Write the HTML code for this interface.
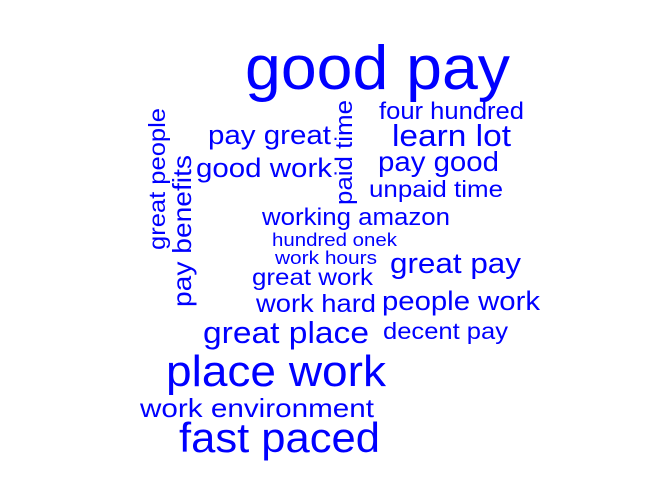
<!DOCTYPE html>
<html><head><meta charset="utf-8"><style>
html,body{margin:0;padding:0;background:#fff;}
svg{display:block;}
text{font-family:"Liberation Sans",Arial,sans-serif;fill:#0000ff;}
</style></head><body>
<svg id="cloud" width="672" height="480" viewBox="0 0 672 480" xmlns="http://www.w3.org/2000/svg"></svg>
<script>
const words = ["good pay","four hundred","learn lot","pay great","good work","pay good","unpaid time","working amazon","hundred onek","work hours","great pay","great work","work hard","people work","great place","decent pay","place work","work environment","fast paced","paid time","great people","pay benefits"];
const sizes = [62,24,31,27,27,28,23,24,18,18,29,23,25,27,31,23,44,26,42,24,23,26];
const rotated = [0,0,0,0,0,0,0,0,0,0,0,0,0,0,0,0,0,0,0,1,1,1];
const layoutX = [245,379,392,208,196,378,369,262,272,275,390,252,256,382,203,383,166,140,179,352,165,191];
const layoutY = [89,119,146,144,177,171,197,225,246,264,273,285,312,310,343,339,386,417,452,205,250,307];
const lens = [265,145,119,123,136,121,134,188,125,102,131,121,120,158,166,125,220,234,201,105,142,152];
const svg = document.getElementById('cloud');
const NS = 'http://www.w3.org/2000/svg';
words.forEach((w,i)=>{
  const t = document.createElementNS(NS,'text');
  
  
  t.setAttribute('font-size', sizes[i]);
  t.setAttribute('textLength', lens[i]);
  t.setAttribute('lengthAdjust', 'spacingAndGlyphs');
  if (rotated[i]) {
    t.setAttribute('x', 0); t.setAttribute('y', 0);
    t.setAttribute('transform', `translate(${layoutX[i]},${layoutY[i]}) rotate(-90)`);
  } else {
    t.setAttribute('x', layoutX[i]); t.setAttribute('y', layoutY[i]);
  }
  t.textContent = w;
  svg.appendChild(t);
});
</script>
</body></html>
